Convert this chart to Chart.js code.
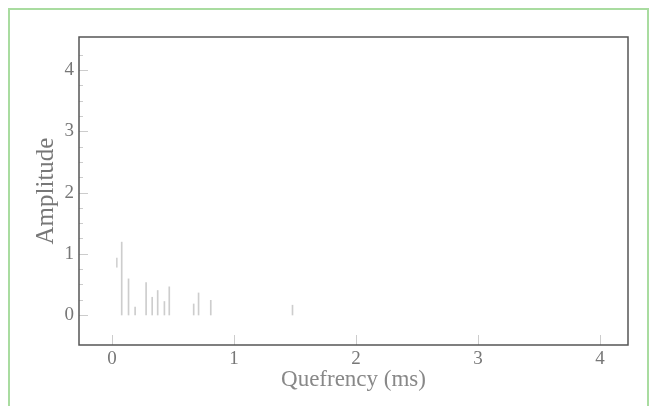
<!DOCTYPE html>
<html>
<head>
<meta charset="utf-8">
<script src="https://cdn.jsdelivr.net/npm/chart.js@4.4.1/dist/chart.umd.min.js"></script>
<style>
  html, body { margin: 0; padding: 0; background: #fff; }
  #wrap { width: 650px; height: 406px; position: relative; }
</style>
</head>
<body>
<div id="wrap"><canvas id="cepstrum" width="650" height="406"></canvas></div>
<script>
// quefrency (ms) of each cepstral peak and its amplitude
var quefrency = [0.08, 0.136, 0.19, 0.28, 0.33, 0.375, 0.43, 0.47, 0.67, 0.71, 0.81, 1.48];
var amplitude = [1.19, 0.59, 0.13, 0.53, 0.29, 0.40, 0.22, 0.46, 0.18, 0.36, 0.24, 0.16];

// a short detached stroke near the origin (low, high)
var strayQuefrency = [0.04];
var strayRange = [[0.78, 0.93]];

var xTicks = [0, 1, 2, 3, 4];
var yTicks = [0, 1, 2, 3, 4];
var yMinorTicks = [0.25, 0.5, 0.75, 1.25, 1.5, 1.75, 2.25, 2.5, 2.75, 3.25, 3.5, 3.75, 4.25];

var stems = quefrency.map(function (q, i) { return { x: q, y: [0, amplitude[i]] }; });
var stray = strayQuefrency.map(function (q, i) { return { x: q, y: strayRange[i] }; });

// outer green border, plot frame and inward tick marks
var framePlugin = {
    id: 'frame',
    beforeDraw: function (chart) {
        var ctx = chart.ctx;
        ctx.save();
        ctx.strokeStyle = '#a9dca0';
        ctx.lineWidth = 2;
        ctx.strokeRect(9, 9, 639, 420);
        ctx.restore();
    },
    afterDraw: function (chart) {
        var ctx = chart.ctx;
        var a = chart.chartArea;
        var xs = chart.scales.x;
        var ys = chart.scales.y;
        ctx.save();
        ctx.strokeStyle = '#cccccc';
        ctx.lineWidth = 1;
        xTicks.forEach(function (v) {
            var px = Math.round(xs.getPixelForValue(v)) + 0.5;
            ctx.beginPath();
            ctx.moveTo(px, a.bottom);
            ctx.lineTo(px, a.bottom - 10);
            ctx.stroke();
        });
        yTicks.forEach(function (v) {
            var py = Math.round(ys.getPixelForValue(v)) + 0.5;
            ctx.beginPath();
            ctx.moveTo(a.left, py);
            ctx.lineTo(a.left + 9, py);
            ctx.stroke();
        });
        yMinorTicks.forEach(function (v) {
            var py = Math.round(ys.getPixelForValue(v)) + 0.5;
            ctx.beginPath();
            ctx.moveTo(a.left, py);
            ctx.lineTo(a.left + 4, py);
            ctx.stroke();
        });
        ctx.strokeStyle = '#555';
        ctx.lineWidth = 1.5;
        ctx.strokeRect(a.left, a.top, a.right - a.left, a.bottom - a.top);
        ctx.restore();
    }
};

var ctx = document.getElementById('cepstrum').getContext('2d');
var myChart = new Chart(ctx, {
    type: 'bar',
    data: {
        datasets: [{
            label: 'Cepstrum',
            data: stems,
            backgroundColor: '#cdcdcd',
            barThickness: 1,
            grouped: false
        }, {
            label: 'Stray',
            data: stray,
            backgroundColor: '#d2d2d2',
            barThickness: 1,
            grouped: false
        }]
    },
    options: {
        responsive: false,
        animation: false,
        layout: { padding: { top: 37, right: 22, left: 0, bottom: 0 } },
        plugins: {
            legend: { display: false },
            tooltip: { enabled: false }
        },
        scales: {
            x: {
                type: 'linear',
                offset: false,
                min: -0.27,
                max: 4.23,
                afterBuildTicks: function (scale) {
                    scale.ticks = xTicks.map(function (v) { return { value: v }; });
                },
                afterFit: function (scale) { scale.height = 61; },
                grid: { display: false, drawTicks: false, tickLength: 0 },
                border: { display: false },
                ticks: {
                    color: '#777',
                    padding: 3,
                    maxRotation: 0,
                    font: { family: 'Liberation Serif', size: 19 }
                },
                title: {
                    display: true,
                    text: 'Quefrency (ms)',
                    color: '#888',
                    padding: { top: 0, bottom: 12 },
                    font: { family: 'Liberation Serif', size: 23 }
                }
            },
            y: {
                type: 'linear',
                min: -0.49,
                max: 4.54,
                afterBuildTicks: function (scale) {
                    scale.ticks = yTicks.map(function (v) { return { value: v }; });
                },
                afterFit: function (scale) { scale.width = 79; },
                grid: { display: false, drawTicks: false, tickLength: 0 },
                border: { display: false },
                ticks: {
                    color: '#777',
                    padding: 5,
                    font: { family: 'Liberation Serif', size: 19 }
                },
                title: {
                    display: true,
                    text: 'Amplitude',
                    color: '#777',
                    padding: { top: 31, bottom: 0 },
                    font: { family: 'Liberation Serif', size: 25 }
                }
            }
        }
    },
    plugins: [framePlugin]
});
</script>
</body>
</html>
